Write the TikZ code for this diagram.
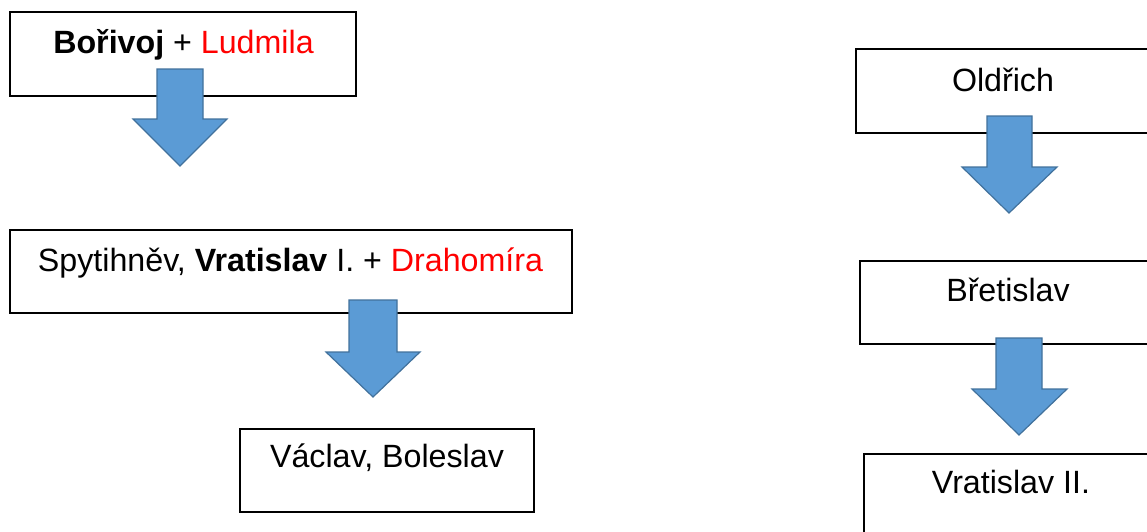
\documentclass[tikz,border=0pt]{standalone}
\usepackage{fontspec}
\setmainfont{Liberation Sans}
\definecolor{arrowfill}{HTML}{5B9BD5}
\definecolor{arrowline}{HTML}{41719C}
\definecolor{namered}{HTML}{FF0000}
\tikzset{
  famebox/.style={draw=black, line width=1.3pt, fill=white, inner sep=0pt},
  boxlabel/.style={anchor=base, inner sep=0pt, font=\fontsize{32.2}{37}\selectfont},
  blockarrow/.style={fill=arrowfill, draw=arrowline, line width=1.2pt, line join=miter},
}
\begin{document}
\begin{tikzpicture}[x=1pt,y=-1pt]
\useasboundingbox (0,0) rectangle (1147,531);
% boxes
\path[famebox] (10,12) rectangle (356,96);
\node[boxlabel] (t1) at (183.5,53.5) {\textbf{Bořivoj} + \textcolor{namered}{Ludmila}};
\path[famebox] (10,230) rectangle (572,313);
\node[boxlabel] (t2) at (290.5,271) {Spytihněv, \textbf{Vratislav} I. + \textcolor{namered}{Drahomíra}};
\path[famebox] (240,429) rectangle (534,512);
\node[boxlabel] (t3) at (387,467) {Václav, Boleslav};
\path[famebox] (856,49) rectangle (1160,133);
\node[boxlabel] (t4) at (1003,91) {Oldřich};
\path[famebox] (860,261) rectangle (1160,344);
\node[boxlabel] (t5) at (1008,301) {Břetislav};
\path[famebox] (864,454) rectangle (1160,560);
\node[boxlabel] (t6) at (1011,493) {Vratislav II.};
% block arrows
\draw[blockarrow] (157,69) -- (203,69) -- (203,119) -- (227,119) -- (180,166) -- (133,119) -- (157,119) -- cycle;
\draw[blockarrow] (349,300) -- (397,300) -- (397,352) -- (420,352) -- (373,397) -- (326,352) -- (349,352) -- cycle;
\draw[blockarrow] (987,116) -- (1032,116) -- (1032,167) -- (1057,167) -- (1009,213) -- (962,167) -- (987,167) -- cycle;
\draw[blockarrow] (996,338) -- (1042,338) -- (1042,389) -- (1067,389) -- (1019,435) -- (972,389) -- (996,389) -- cycle;
\end{tikzpicture}
\end{document}
